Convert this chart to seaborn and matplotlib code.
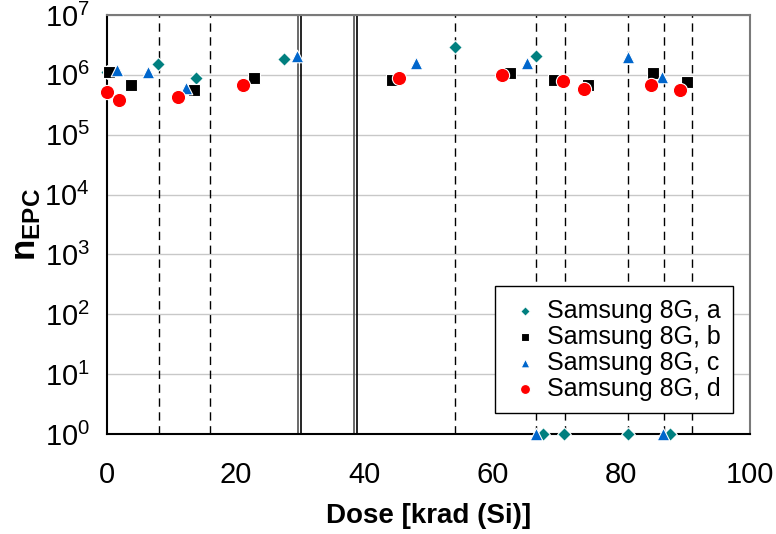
import numpy as np
import pandas as pd
import matplotlib
matplotlib.use("Agg")
import matplotlib.pyplot as plt
import seaborn as sns
from matplotlib.ticker import MultipleLocator, LogLocator, NullFormatter

# ---- data: dose [krad(Si)] and n_EPC for each device ----
dose_a = [0.0, 7.9, 13.8, 27.6, 54.1, 66.8, 67.9, 71.1, 81.0, 87.6]
nepc_a = [1.1e6, 1.5e6, 9.0e5, 1.83e6, 2.95e6, 2.05e6, 1, 1, 1, 1]

dose_b = [0.3, 3.7, 13.5, 22.8, 44.3, 62.7, 69.5, 74.9, 85.0, 90.3]
nepc_b = [1.1e6, 6.8e5, 5.6e5, 9.0e5, 8.2e5, 1.07e6, 8.2e5, 6.8e5, 1.07e6, 7.7e5]

dose_c = [1.6, 6.3, 12.3, 29.5, 48.1, 65.3, 66.7, 81.0, 86.3, 86.5]
nepc_c = [1.2e6, 1.1e6, 6.1e5, 2.1e6, 1.6e6, 1.6e6, 1, 1.95e6, 9.1e5, 1]

dose_d = [0.0, 1.9, 11.1, 21.2, 45.5, 61.5, 70.9, 74.2, 84.7, 89.1]
nepc_d = [5.1e5, 3.8e5, 4.3e5, 6.8e5, 9.0e5, 1.0e6, 8.0e5, 5.7e5, 6.8e5, 5.6e5]

labels = ["Samsung 8G, a", "Samsung 8G, b", "Samsung 8G, c", "Samsung 8G, d"]

# dose steps marked by vertical lines
dose_steps_dashed = [8.1, 16.0, 54.1, 66.8, 71.2, 81.0, 86.6, 91.1]
dose_steps_double = [29.9, 38.6]

x_ticks = [0, 20, 40, 60, 80, 100]

# ---- style ----
sns.set_style("white")
plt.rcParams["font.family"] = ["Liberation Sans", "DejaVu Sans"]
plt.rcParams["mathtext.fontset"] = "custom"
plt.rcParams["mathtext.rm"] = "Liberation Sans"
plt.rcParams["mathtext.bf"] = "Liberation Sans:bold"
plt.rcParams["mathtext.it"] = "Liberation Sans:italic"
for key in ["text.color", "axes.labelcolor", "xtick.color", "ytick.color"]:
    plt.rcParams[key] = "black"

fig = plt.figure(figsize=(7.76, 5.34), dpi=100)
ax = fig.add_axes([0.138, 0.187, 0.828, 0.785])

# vertical markers of dose steps
for d in dose_steps_dashed:
    ax.axvline(d, color="black", lw=1.0, ls=(0, (6, 4)), zorder=1)
for d in dose_steps_double:
    ax.axvline(d - 0.15, color="#505050", lw=1.2, zorder=1)
    ax.axvline(d + 0.25, color="black", lw=1.2, zorder=1)

series = [
    (dose_a, nepc_a, labels[0], "D", "#007f7f", 48),
    (dose_b, nepc_b, labels[1], "s", "black", 82),
    (dose_c, nepc_c, labels[2], "^", "#0066cc", 82),
    (dose_d, nepc_d, labels[3], "o", "#ff0000", 105),
]
for i, (xd, yd, lab, mk, col, sz) in enumerate(series):
    df = pd.DataFrame({"dose": xd, "nepc": yd})
    sns.scatterplot(data=df, x="dose", y="nepc", ax=ax, marker=mk, color=col,
                    s=sz, edgecolor="white", linewidth=0.8, label=lab,
                    clip_on=False, zorder=3 + i)

ax.set_yscale("log")
ax.set_xlim(0, 100)
ax.set_ylim(1, 1e7)

ax.set_xticks(x_ticks)
ax.xaxis.set_minor_locator(MultipleLocator(4))
ax.yaxis.set_major_locator(LogLocator(base=10, numticks=12))
ax.yaxis.set_minor_locator(LogLocator(base=10, subs=np.arange(2, 10), numticks=12))
ax.yaxis.set_minor_formatter(NullFormatter())

ax.tick_params(axis="both", which="major", direction="inout", length=13,
               width=1.2, color="black", labelsize=21)
ax.tick_params(axis="x", which="major", pad=13)
ax.tick_params(axis="y", which="major", pad=6)
ax.tick_params(axis="both", which="minor", direction="in", length=5,
               width=1.0, color="black")
ax.tick_params(top=False, right=False, which="both")

ax.yaxis.grid(True, which="major", color="#c8c8c8", lw=1.0, zorder=0)
ax.xaxis.grid(False)
ax.set_axisbelow(True)

for side in ["left", "bottom"]:
    ax.spines[side].set_color("black")
    ax.spines[side].set_linewidth(1.5)
for side in ["top", "right"]:
    ax.spines[side].set_color("#7a7a7a")
    ax.spines[side].set_linewidth(1.5)

ax.set_xlabel("Dose [krad (Si)]", fontsize=20, fontweight="bold", labelpad=10)
ax.set_ylabel(r"$\mathbf{n}_{\mathbf{EPC}}$", fontsize=25)
ax.yaxis.set_label_coords(-0.1, 0.5)

leg = ax.legend(loc="lower right", bbox_to_anchor=(0.974, 0.05), fontsize=18,
                frameon=True, fancybox=False, framealpha=1, edgecolor="black",
                markerscale=0.7, handlelength=1.4, handletextpad=0.15,
                labelspacing=0.08, borderpad=0.5, borderaxespad=0)
leg.get_frame().set_linewidth(1.0)
leg.set_zorder(10)

fig.savefig("out.png", dpi=100)
